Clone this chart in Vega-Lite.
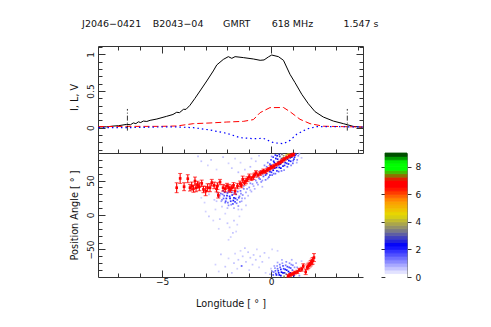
{"$schema":"https://vega.github.io/schema/vega-lite/v6.json","padding":{"left":68,"top":18,"right":60,"bottom":15},"background":"white","config":{"view":{"stroke":null},"font":"DejaVu Sans","axis":{"grid":false,"domainColor":"#333","tickColor":"#333","labelColor":"#111","titleColor":"#111","labelFontSize":9,"titleFontSize":9.7,"titleFontWeight":"normal","labelFont":"DejaVu Sans","titleFont":"DejaVu Sans"}},"bounds":"flush","columns":2,"spacing":{"row":0,"column":22},"concat":[{"width":265,"height":107,"resolve":{"axis":{"x":"independent","y":"independent"}},"layer":[{"data":{"values":[{"lon":-7.92,"val":0.01},{"lon":-7.54,"val":0.012},{"lon":-7.25,"val":0.022},{"lon":-7.0,"val":0.027},{"lon":-6.62,"val":0.045},{"lon":-6.45,"val":0.04},{"lon":-6.32,"val":0.065},{"lon":-6.2,"val":0.055},{"lon":-6.09,"val":0.08},{"lon":-5.98,"val":0.07},{"lon":-5.86,"val":0.09},{"lon":-5.7,"val":0.085},{"lon":-5.55,"val":0.1},{"lon":-5.24,"val":0.118},{"lon":-4.79,"val":0.155},{"lon":-4.5,"val":0.18},{"lon":-4.33,"val":0.21},{"lon":-4.2,"val":0.205},{"lon":-4.02,"val":0.25},{"lon":-3.9,"val":0.25},{"lon":-3.72,"val":0.305},{"lon":-3.49,"val":0.4},{"lon":-3.26,"val":0.5},{"lon":-2.95,"val":0.636},{"lon":-2.65,"val":0.773},{"lon":-2.49,"val":0.855},{"lon":-2.19,"val":0.93},{"lon":-1.96,"val":0.968},{"lon":-1.8,"val":0.945},{"lon":-1.65,"val":0.968},{"lon":-1.27,"val":0.955},{"lon":-0.81,"val":0.936},{"lon":-0.5,"val":0.918},{"lon":-0.32,"val":0.923},{"lon":-0.12,"val":0.964},{"lon":0.03,"val":0.99},{"lon":0.34,"val":0.968},{"lon":0.57,"val":0.918},{"lon":0.87,"val":0.727},{"lon":1.1,"val":0.614},{"lon":1.41,"val":0.455},{"lon":1.71,"val":0.327},{"lon":2.02,"val":0.218},{"lon":2.4,"val":0.145},{"lon":2.86,"val":0.09},{"lon":3.32,"val":0.055},{"lon":3.77,"val":0.018},{"lon":4.2,"val":0.005}]},"mark":{"type":"line","color":"#000","strokeWidth":1,"interpolate":"linear"},"encoding":{"x":{"field":"lon","type":"quantitative","scale":{"domain":[-7.94,4.22],"nice":false,"zero":false},"axis":{"orient":"bottom","values":[-7,-6,-5,-4,-3,-2,-1,0,1,2,3,4],"labels":false,"title":null,"tickSize":{"condition":{"test":"abs(datum.value)%5===0","value":-7},"value":-4}}},"y":{"field":"val","type":"quantitative","scale":{"domain":[-0.345,1.113],"nice":false,"zero":false},"axis":{"orient":"left","values":[-0.3,-0.2,-0.1,0,0.1,0.2,0.3,0.4,0.5,0.6,0.7,0.8,0.9,1,1.1],"labelAngle":-90,"labelAlign":"center","labelBaseline":"bottom","labelPadding":10,"labelExpr":"abs(datum.value-round(datum.value*2)/2)<0.001&&datum.value>=0?format(datum.value,'~g'):''","title":"I, L, V","titleX":-19,"titleY":51,"tickSize":{"condition":{"test":"abs(datum.value*2-round(datum.value*2))<0.001","value":-7},"value":-4}}}}},{"data":{"values":[{"lon":-7.92,"val":0.014},{"lon":-6.62,"val":0.018},{"lon":-5.09,"val":0.018},{"lon":-4.33,"val":0.023},{"lon":-3.56,"val":0.055},{"lon":-2.8,"val":0.064},{"lon":-2.03,"val":0.077},{"lon":-1.27,"val":0.086},{"lon":-0.81,"val":0.11},{"lon":-0.5,"val":0.205},{"lon":-0.05,"val":0.273},{"lon":0.57,"val":0.275},{"lon":0.87,"val":0.218},{"lon":1.33,"val":0.114},{"lon":1.79,"val":0.055},{"lon":2.4,"val":0.02},{"lon":3.32,"val":0.014},{"lon":4.2,"val":0.01}]},"mark":{"type":"line","color":"#f00","strokeWidth":1,"strokeDash":[6,3]},"encoding":{"x":{"field":"lon","type":"quantitative","scale":{"domain":[-7.94,4.22],"nice":false,"zero":false},"axis":{"orient":"top","values":[-7,-6,-5,-4,-3,-2,-1,0,1,2,3,4],"labels":false,"title":null,"tickSize":{"condition":{"test":"abs(datum.value)%5===0","value":-7},"value":-4}}},"y":{"field":"val","type":"quantitative","scale":{"domain":[-0.345,1.113],"nice":false,"zero":false},"axis":{"orient":"right","values":[-0.3,-0.2,-0.1,0,0.1,0.2,0.3,0.4,0.5,0.6,0.7,0.8,0.9,1,1.1],"labels":false,"title":null,"tickSize":{"condition":{"test":"abs(datum.value*2-round(datum.value*2))<0.001","value":-7},"value":-4}}}}},{"data":{"values":[{"lon":-7.92,"val":0.0},{"lon":-6.62,"val":0.0},{"lon":-5.09,"val":0.01},{"lon":-4.33,"val":0.01},{"lon":-3.56,"val":0.0},{"lon":-2.8,"val":-0.032},{"lon":-2.03,"val":-0.077},{"lon":-1.42,"val":-0.136},{"lon":-0.81,"val":-0.15},{"lon":-0.35,"val":-0.145},{"lon":0.11,"val":-0.205},{"lon":0.57,"val":-0.218},{"lon":0.87,"val":-0.173},{"lon":1.18,"val":-0.09},{"lon":1.64,"val":-0.018},{"lon":2.09,"val":0.014},{"lon":2.86,"val":0.014},{"lon":4.2,"val":0.01}]},"mark":{"type":"line","color":"#00f","strokeWidth":1.2,"strokeDash":[1.5,3]},"encoding":{"x":{"field":"lon","type":"quantitative","scale":{"domain":[-7.94,4.22],"nice":false,"zero":false},"axis":null},"y":{"field":"val","type":"quantitative","scale":{"domain":[-0.345,1.113],"nice":false,"zero":false},"axis":null}}},{"data":{"values":[{"lon":-6.59,"lo":-0.04,"hi":0.255},{"lon":3.5,"lo":-0.04,"hi":0.255}]},"mark":{"type":"rule","color":"#000","strokeWidth":0.8,"strokeDash":[5,2,1,2]},"encoding":{"x":{"field":"lon","type":"quantitative","scale":{"domain":[-7.94,4.22],"nice":false,"zero":false},"axis":null},"y":{"field":"lo","type":"quantitative","scale":{"domain":[-0.345,1.113],"nice":false,"zero":false},"axis":null},"y2":{"field":"hi"}}},{"data":{"values":[{"lon":-8.67,"t":"J2046−0421"},{"lon":-5.43,"t":"B2043−04"},{"lon":-2.2,"t":"GMRT"},{"lon":0.03,"t":"618 MHz"},{"lon":3.32,"t":"1.547 s"}]},"mark":{"type":"text","align":"left","baseline":"middle","fontSize":9.5,"color":"#111"},"encoding":{"x":{"field":"lon","type":"quantitative","scale":{"domain":[-7.94,4.22],"nice":false,"zero":false},"axis":null},"y":{"datum":1.413,"type":"quantitative","scale":{"domain":[-0.345,1.113],"nice":false,"zero":false},"axis":null},"text":{"field":"t"}}}]},{"width":22,"height":107,"data":{"values":[{"a":1}]},"mark":{"type":"rule","opacity":0},"encoding":{}},{"width":265,"height":124,"resolve":{"axis":{"x":"independent","y":"independent"}},"layer":[{"data":{"values":[{"x":-3.35,"y":85,"z":0.5},{"x":-3.2,"y":78,"z":0.5},{"x":-2.9,"y":72,"z":0.4},{"x":-2.75,"y":80,"z":0.5},{"x":-2.5,"y":66,"z":0.4},{"x":-2.2,"y":84,"z":0.5},{"x":-1.95,"y":75,"z":0.4},{"x":-1.8,"y":68,"z":0.5},{"x":-1.65,"y":82,"z":0.4},{"x":-1.5,"y":62,"z":0.6},{"x":-1.4,"y":76,"z":0.4},{"x":-0.9,"y":82,"z":0.5},{"x":-0.95,"y":70,"z":0.6},{"x":-0.55,"y":86,"z":0.5},{"x":-0.7,"y":78,"z":0.5},{"x":-1.2,"y":66,"z":0.5},{"x":-3.2,"y":25,"z":0.4},{"x":-3.05,"y":18,"z":0.4},{"x":-2.85,"y":30,"z":0.5},{"x":-2.6,"y":22,"z":0.5},{"x":-3.0,"y":5,"z":0.4},{"x":-2.85,"y":-2,"z":0.5},{"x":-2.55,"y":8,"z":0.4},{"x":-2.35,"y":-6,"z":0.5},{"x":-2.1,"y":2,"z":0.4},{"x":-2.0,"y":-12,"z":0.5},{"x":-1.9,"y":-18,"z":0.4},{"x":-1.7,"y":-8,"z":0.5},{"x":-1.55,"y":-14,"z":0.4},{"x":-1.45,"y":-2,"z":0.4},{"x":-1.35,"y":8,"z":0.5},{"x":-1.15,"y":14,"z":0.5},{"x":-2.25,"y":12,"z":0.5},{"x":-2.65,"y":-8,"z":0.4},{"x":-1.75,"y":-26,"z":0.5},{"x":-1.85,"y":-32,"z":0.4},{"x":-1.6,"y":-24,"z":0.4},{"x":-1.95,"y":-36,"z":0.4},{"x":-2.4,"y":-20,"z":0.4},{"x":-2.4,"y":26,"z":1.0},{"x":-2.3,"y":31,"z":1.3},{"x":-2.25,"y":22,"z":1.0},{"x":-2.2,"y":35,"z":1.6},{"x":-2.15,"y":28,"z":1.4},{"x":-2.1,"y":18,"z":1.2},{"x":-2.05,"y":24,"z":1.8},{"x":-2.0,"y":32,"z":1.6},{"x":-1.95,"y":14,"z":1.0},{"x":-1.9,"y":27,"z":1.9},{"x":-1.85,"y":20,"z":1.7},{"x":-1.8,"y":33,"z":1.4},{"x":-1.75,"y":16,"z":1.5},{"x":-1.7,"y":25,"z":2.0},{"x":-1.65,"y":19,"z":1.6},{"x":-1.6,"y":30,"z":1.5},{"x":-1.55,"y":22,"z":1.2},{"x":-1.5,"y":13,"z":0.9},{"x":-1.45,"y":27,"z":1.3},{"x":-1.4,"y":35,"z":1.2},{"x":-1.35,"y":20,"z":0.8},{"x":-1.3,"y":29,"z":1.0},{"x":-1.25,"y":38,"z":1.1},{"x":-1.2,"y":24,"z":0.7},{"x":-1.15,"y":33,"z":0.8},{"x":-1.05,"y":28,"z":0.6},{"x":-1.0,"y":40,"z":1.0},{"x":-0.9,"y":34,"z":0.7},{"x":-0.85,"y":45,"z":0.9},{"x":-0.75,"y":38,"z":0.7},{"x":-0.7,"y":50,"z":1.0},{"x":-0.6,"y":44,"z":0.8},{"x":-0.55,"y":53,"z":1.2},{"x":-0.45,"y":48,"z":1.0},{"x":-0.4,"y":41,"z":0.6},{"x":-0.35,"y":56,"z":1.4},{"x":-0.3,"y":72,"z":1.0},{"x":-0.25,"y":51,"z":1.2},{"x":-0.2,"y":60,"z":1.9},{"x":-0.15,"y":76,"z":1.2},{"x":-0.1,"y":55,"z":1.4},{"x":-0.05,"y":63,"z":2.0},{"x":0.0,"y":80,"z":1.5},{"x":0.0,"y":72,"z":2.1},{"x":0.05,"y":58,"z":1.3},{"x":0.1,"y":84,"z":1.7},{"x":0.1,"y":65,"z":2.2},{"x":0.15,"y":76,"z":2.3},{"x":0.2,"y":60,"z":1.3},{"x":0.2,"y":87,"z":1.8},{"x":0.25,"y":69,"z":2.2},{"x":0.3,"y":81,"z":2.4},{"x":0.35,"y":63,"z":1.4},{"x":0.35,"y":73,"z":2.2},{"x":0.4,"y":85,"z":2.8},{"x":0.45,"y":68,"z":2.1},{"x":0.45,"y":78,"z":2.4},{"x":0.5,"y":88,"z":3.2},{"x":0.55,"y":71,"z":2.0},{"x":0.55,"y":83,"z":3.8},{"x":0.6,"y":65,"z":1.0},{"x":0.65,"y":76,"z":2.0},{"x":0.7,"y":87,"z":4.2},{"x":0.75,"y":70,"z":1.4},{"x":0.75,"y":81,"z":2.6},{"x":0.8,"y":74,"z":1.9},{"x":0.85,"y":88,"z":4.6},{"x":0.9,"y":78,"z":2.0},{"x":0.95,"y":84,"z":2.4},{"x":1.0,"y":75,"z":1.4},{"x":1.05,"y":81,"z":1.8},{"x":1.1,"y":87,"z":2.2},{"x":1.2,"y":80,"z":1.0},{"x":1.25,"y":86,"z":1.0},{"x":1.3,"y":89,"z":0.9},{"x":1.4,"y":83,"z":0.5},{"x":-2.3,"y":-57,"z":0.5},{"x":-2.1,"y":-75,"z":0.5},{"x":-1.95,"y":-63,"z":0.4},{"x":-2.4,"y":-82,"z":0.4},{"x":-2.55,"y":-72,"z":0.4},{"x":-1.8,"y":-84,"z":0.5},{"x":-1.7,"y":-70,"z":0.5},{"x":-1.65,"y":-56,"z":0.4},{"x":-1.55,"y":-78,"z":0.4},{"x":-1.5,"y":-65,"z":0.5},{"x":-1.4,"y":-52,"z":0.4},{"x":-1.35,"y":-74,"z":1.4},{"x":-1.3,"y":-60,"z":0.5},{"x":-1.2,"y":-48,"z":0.5},{"x":-1.15,"y":-68,"z":0.5},{"x":-1.05,"y":-54,"z":0.5},{"x":-1.0,"y":-80,"z":0.4},{"x":-0.95,"y":-62,"z":0.5},{"x":-0.85,"y":-72,"z":0.5},{"x":-0.8,"y":-58,"z":0.5},{"x":-0.7,"y":-65,"z":0.5},{"x":-0.65,"y":-50,"z":0.4},{"x":-0.55,"y":-76,"z":0.4},{"x":-0.5,"y":-60,"z":0.5},{"x":-0.4,"y":-68,"z":0.5},{"x":-0.3,"y":-55,"z":0.5},{"x":-0.25,"y":-84,"z":0.4},{"x":-0.1,"y":-62,"z":0.4},{"x":0.05,"y":-50,"z":0.4},{"x":0.3,"y":-52,"z":0.4},{"x":0.05,"y":-82,"z":1.0},{"x":0.1,"y":-87,"z":1.5},{"x":0.15,"y":-74,"z":0.8},{"x":0.2,"y":-81,"z":1.4},{"x":0.25,"y":-87,"z":2.0},{"x":0.3,"y":-69,"z":0.8},{"x":0.3,"y":-78,"z":1.3},{"x":0.35,"y":-84,"z":2.0},{"x":0.4,"y":-72,"z":1.2},{"x":0.45,"y":-88,"z":2.3},{"x":0.45,"y":-79,"z":1.9},{"x":0.5,"y":-65,"z":0.7},{"x":0.55,"y":-84,"z":2.2},{"x":0.55,"y":-74,"z":1.5},{"x":0.6,"y":-89,"z":3.6},{"x":0.65,"y":-79,"z":2.0},{"x":0.7,"y":-68,"z":1.0},{"x":0.7,"y":-86,"z":3.0},{"x":0.75,"y":-75,"z":1.6},{"x":0.8,"y":-82,"z":2.2},{"x":0.85,"y":-70,"z":1.0},{"x":0.9,"y":-77,"z":1.6},{"x":0.95,"y":-65,"z":0.7},{"x":1.0,"y":-73,"z":1.1},{"x":1.05,"y":-88,"z":2.1},{"x":1.15,"y":-70,"z":0.7},{"x":1.2,"y":-76,"z":0.9},{"x":1.3,"y":-88,"z":1.0},{"x":1.4,"y":-67,"z":0.5},{"x":-2.35,"y":28,"z":0.9},{"x":-2.28,"y":20,"z":0.8},{"x":-2.22,"y":30,"z":1.2},{"x":-2.18,"y":24,"z":1.4},{"x":-2.12,"y":33,"z":1.7},{"x":-2.08,"y":20,"z":1.5},{"x":-2.02,"y":28,"z":1.9},{"x":-1.98,"y":18,"z":1.2},{"x":-1.93,"y":34,"z":1.6},{"x":-1.88,"y":24,"z":2.0},{"x":-1.83,"y":15,"z":1.0},{"x":-1.78,"y":29,"z":1.8},{"x":-1.73,"y":21,"z":2.1},{"x":-1.68,"y":32,"z":1.5},{"x":-1.63,"y":24,"z":1.8},{"x":-1.58,"y":17,"z":1.2},{"x":-1.53,"y":34,"z":1.3},{"x":-1.48,"y":25,"z":1.5},{"x":-1.43,"y":19,"z":1.0},{"x":-1.38,"y":31,"z":1.0},{"x":-1.33,"y":24,"z":0.8},{"x":-2.45,"y":32,"z":0.8},{"x":-2.5,"y":20,"z":0.5},{"x":-2.0,"y":10,"z":0.6},{"x":-1.7,"y":10,"z":0.7},{"x":-1.5,"y":8,"z":0.5},{"x":-1.25,"y":42,"z":0.9},{"x":-1.1,"y":38,"z":0.9},{"x":-0.95,"y":46,"z":1.0},{"x":-0.95,"y":36,"z":0.6},{"x":-0.8,"y":42,"z":0.7},{"x":-0.8,"y":52,"z":1.0},{"x":-0.65,"y":47,"z":1.0},{"x":-0.65,"y":57,"z":0.9},{"x":-0.5,"y":52,"z":1.2},{"x":-0.5,"y":64,"z":0.8},{"x":-0.4,"y":60,"z":1.5},{"x":-0.4,"y":50,"z":0.9},{"x":-0.3,"y":63,"z":1.3},{"x":-0.25,"y":58,"z":1.7},{"x":-0.2,"y":70,"z":1.2},{"x":-0.15,"y":53,"z":0.9},{"x":-0.12,"y":66,"z":1.9},{"x":-0.05,"y":58,"z":1.6},{"x":-0.05,"y":74,"z":1.5},{"x":0.02,"y":62,"z":1.8},{"x":0.03,"y":85,"z":1.0},{"x":0.07,"y":70,"z":2.1},{"x":0.12,"y":78,"z":2.0},{"x":0.12,"y":60,"z":1.2},{"x":0.17,"y":68,"z":2.3},{"x":0.22,"y":74,"z":2.2},{"x":0.22,"y":82,"z":2.0},{"x":0.27,"y":64,"z":1.7},{"x":0.28,"y":86,"z":2.4},{"x":0.33,"y":77,"z":2.6},{"x":0.38,"y":69,"z":2.2},{"x":0.38,"y":88,"z":2.6},{"x":0.43,"y":74,"z":2.1},{"x":0.48,"y":82,"z":3.0},{"x":0.48,"y":64,"z":1.2},{"x":0.52,"y":77,"z":2.2},{"x":0.58,"y":86,"z":3.6},{"x":0.62,"y":72,"z":1.8},{"x":0.62,"y":80,"z":2.5},{"x":0.68,"y":84,"z":3.3},{"x":0.72,"y":75,"z":1.8},{"x":0.78,"y":88,"z":4.2},{"x":0.82,"y":79,"z":2.2},{"x":0.88,"y":83,"z":2.6},{"x":0.92,"y":72,"z":1.1},{"x":0.98,"y":88,"z":3.0},{"x":1.02,"y":79,"z":1.5},{"x":1.08,"y":84,"z":1.8},{"x":1.15,"y":88,"z":1.5},{"x":1.18,"y":76,"z":0.7},{"x":0.12,"y":-83,"z":1.2},{"x":0.18,"y":-77,"z":0.9},{"x":0.22,"y":-85,"z":1.6},{"x":0.28,"y":-74,"z":0.9},{"x":0.33,"y":-81,"z":1.7},{"x":0.38,"y":-87,"z":2.2},{"x":0.42,"y":-76,"z":1.4},{"x":0.48,"y":-83,"z":2.2},{"x":0.52,"y":-70,"z":0.9},{"x":0.58,"y":-78,"z":1.7},{"x":0.62,"y":-84,"z":2.6},{"x":0.67,"y":-73,"z":1.2},{"x":0.72,"y":-80,"z":2.0},{"x":0.78,"y":-88,"z":3.2},{"x":0.83,"y":-76,"z":1.5},{"x":0.88,"y":-84,"z":2.2},{"x":0.93,"y":-72,"z":1.0},{"x":0.98,"y":-80,"z":1.4},{"x":1.08,"y":-76,"z":0.9},{"x":1.12,"y":-84,"z":1.4},{"x":-0.05,"y":-86,"z":0.6},{"x":0.0,"y":-78,"z":0.5}]},"mark":{"type":"square","size":3,"opacity":1},"encoding":{"x":{"field":"x","type":"quantitative","scale":{"domain":[-7.94,4.22],"nice":false,"zero":false},"axis":{"orient":"bottom","values":[-7,-6,-5,-4,-3,-2,-1,0,1,2,3,4],"labelPadding":7,"labelExpr":"datum.value%5===0?replace(format(datum.value,'d'),'-','−'):''","title":"Longitude [ ° ]","titlePadding":12,"tickSize":{"condition":{"test":"abs(datum.value)%5===0","value":-7},"value":-4}}},"y":{"field":"y","type":"quantitative","scale":{"domain":[-90,90],"nice":false,"zero":false},"axis":{"orient":"left","values":[-80,-70,-60,-50,-40,-30,-20,-10,0,10,20,30,40,50,60,70,80],"labelAngle":-90,"labelAlign":"center","labelBaseline":"bottom","labelPadding":10,"labelExpr":"datum.value%50===0?replace(format(datum.value,'d'),'-','−'):''","title":"Position Angle [ ° ]","titleX":-19,"titleY":62,"tickSize":{"condition":{"test":"datum.value%50===0","value":-7},"value":-4}}},"color":{"field":"z","type":"quantitative","legend":null,"scale":{"type":"linear","interpolate":"rgb","domain":[0,2.2,3.3,4.4,5.4,6.4,6.9,7.7,8.2,9],"range":["#ffffff","#0000ff","#808080","#e6dc00","#ff9600","#ff0000","#ff0000","#00ff00","#00ff00","#000000"]}}}},{"data":{"values":[{"lon":-4.33,"pa":39.6,"lo":32.4,"hi":46.8},{"lon":-4.17,"pa":53.1,"lo":45.9,"hi":60.3},{"lon":-3.99,"pa":41.1,"lo":35.3,"hi":46.9},{"lon":-3.82,"pa":52.7,"lo":46.9,"hi":58.5},{"lon":-3.72,"pa":39.6,"lo":34.8,"hi":44.4},{"lon":-3.64,"pa":42,"lo":36.2,"hi":47.8},{"lon":-3.56,"pa":38,"lo":33,"hi":43},{"lon":-3.49,"pa":49.3,"lo":43.5,"hi":55.1},{"lon":-3.44,"pa":39.6,"lo":33.8,"hi":45.4},{"lon":-3.37,"pa":44,"lo":39,"hi":49},{"lon":-3.29,"pa":41.1,"lo":35.3,"hi":46.9},{"lon":-3.18,"pa":45.9,"lo":41.1,"hi":50.7},{"lon":-3.1,"pa":37.2,"lo":32.4,"hi":42},{"lon":-3,"pa":34.8,"lo":28,"hi":41.6},{"lon":-2.91,"pa":39.6,"lo":33.8,"hi":45.4},{"lon":-2.8,"pa":39.6,"lo":33.8,"hi":45.4},{"lon":-2.72,"pa":46.9,"lo":42.1,"hi":51.7},{"lon":-2.61,"pa":43,"lo":38.2,"hi":47.8},{"lon":-2.5,"pa":38,"lo":33.5,"hi":42.5},{"lon":-2.46,"pa":42,"lo":37.2,"hi":46.8},{"lon":-2.42,"pa":28.5,"lo":24.6,"hi":32.4},{"lon":-2.34,"pa":47.8,"lo":43.9,"hi":51.7},{"lon":-2.2,"pa":39.6,"lo":34.8,"hi":44.4},{"lon":-2.1,"pa":38.2,"lo":33.4,"hi":43},{"lon":-2.02,"pa":42,"lo":38,"hi":46},{"lon":-1.94,"pa":39.6,"lo":34.8,"hi":44.4},{"lon":-1.87,"pa":37,"lo":33,"hi":41},{"lon":-1.8,"pa":39.6,"lo":35.7,"hi":43.5},{"lon":-1.72,"pa":43,"lo":39,"hi":47},{"lon":-1.65,"pa":34.8,"lo":30,"hi":39.6},{"lon":-1.54,"pa":42,"lo":38.1,"hi":45.9},{"lon":-1.42,"pa":45.4,"lo":41.5,"hi":49.3},{"lon":-1.36,"pa":43,"lo":39.5,"hi":46.5},{"lon":-1.3,"pa":51.7,"lo":46.9,"hi":56.5},{"lon":-1.22,"pa":47,"lo":43.5,"hi":50.5},{"lon":-1.15,"pa":49.3,"lo":45.4,"hi":53.2},{"lon":-1.08,"pa":52,"lo":48.5,"hi":55.5},{"lon":-1,"pa":55.6,"lo":51.7,"hi":59.5},{"lon":-0.9,"pa":53,"lo":50,"hi":56},{"lon":-0.81,"pa":55.6,"lo":51.7,"hi":59.5},{"lon":-0.75,"pa":58,"lo":55,"hi":61},{"lon":-0.69,"pa":61.4,"lo":58.5,"hi":64.3},{"lon":-0.6,"pa":58,"lo":55,"hi":61},{"lon":-0.5,"pa":60.4,"lo":57.5,"hi":63.3},{"lon":-0.42,"pa":62,"lo":59.5,"hi":64.5},{"lon":-0.35,"pa":63.8,"lo":60.9,"hi":66.7},{"lon":-0.26,"pa":63,"lo":60.5,"hi":65.5},{"lon":-0.17,"pa":65.2,"lo":62.8,"hi":67.6},{"lon":-0.1,"pa":67,"lo":65,"hi":69},{"lon":-0.02,"pa":68.6,"lo":65.7,"hi":71.5},{"lon":0.06,"pa":69.5,"lo":67.5,"hi":71.5},{"lon":0.14,"pa":71,"lo":68.6,"hi":73.4},{"lon":0.24,"pa":73,"lo":71,"hi":75},{"lon":0.34,"pa":74.9,"lo":73,"hi":76.8},{"lon":0.42,"pa":76.5,"lo":74.6,"hi":78.4},{"lon":0.49,"pa":78.3,"lo":76.4,"hi":80.2},{"lon":0.57,"pa":80,"lo":78.1,"hi":81.9},{"lon":0.64,"pa":81.6,"lo":79.7,"hi":83.5},{"lon":0.74,"pa":83.5,"lo":81.6,"hi":85.4},{"lon":0.84,"pa":85.5,"lo":83.6,"hi":87.4},{"lon":0.94,"pa":86.8,"lo":84.9,"hi":88.7},{"lon":1.03,"pa":87.9,"lo":86,"hi":89.8},{"lon":0.79,"pa":-88.5,"lo":-90,"hi":-86.6},{"lon":0.87,"pa":-87,"lo":-89,"hi":-85},{"lon":0.95,"pa":-86,"lo":-88,"hi":-84},{"lon":1.03,"pa":-85,"lo":-87,"hi":-83},{"lon":1.1,"pa":-83.5,"lo":-85.5,"hi":-81.5},{"lon":1.21,"pa":-82.6,"lo":-85,"hi":-80.2},{"lon":1.3,"pa":-79.7,"lo":-82,"hi":-77.4},{"lon":1.41,"pa":-78.7,"lo":-81.5,"hi":-75.9},{"lon":1.48,"pa":-73.9,"lo":-77,"hi":-70.8},{"lon":1.59,"pa":-82.6,"lo":-86.5,"hi":-78.7},{"lon":1.66,"pa":-76,"lo":-79.5,"hi":-72.5},{"lon":1.71,"pa":-73.9,"lo":-77.8,"hi":-70},{"lon":1.77,"pa":-72,"lo":-75.5,"hi":-68.5},{"lon":1.82,"pa":-70,"lo":-73.9,"hi":-66.1},{"lon":1.87,"pa":-68,"lo":-72,"hi":-64},{"lon":1.91,"pa":-66.6,"lo":-71.4,"hi":-61.8},{"lon":1.97,"pa":-61.8,"lo":-67.6,"hi":-56}]},"layer":[{"mark":{"type":"rule","color":"#f00","strokeWidth":1.1},"encoding":{"x":{"field":"lon","type":"quantitative","scale":{"domain":[-7.94,4.22],"nice":false,"zero":false},"axis":{"orient":"top","values":[-7,-6,-5,-4,-3,-2,-1,0,1,2,3,4],"labels":false,"title":null,"tickSize":{"condition":{"test":"abs(datum.value)%5===0","value":-7},"value":-4}}},"y":{"field":"lo","type":"quantitative","scale":{"domain":[-90,90],"nice":false,"zero":false},"axis":{"orient":"right","values":[-80,-70,-60,-50,-40,-30,-20,-10,0,10,20,30,40,50,60,70,80],"labels":false,"title":null,"tickSize":{"condition":{"test":"datum.value%50===0","value":-7},"value":-4}}},"y2":{"field":"hi"}}},{"mark":{"type":"tick","color":"#f00","size":4,"thickness":1,"orient":"horizontal"},"encoding":{"x":{"field":"lon","type":"quantitative","scale":{"domain":[-7.94,4.22],"nice":false,"zero":false},"axis":null},"y":{"field":"lo","type":"quantitative","scale":{"domain":[-90,90],"nice":false,"zero":false},"axis":null}}},{"mark":{"type":"tick","color":"#f00","size":4,"thickness":1,"orient":"horizontal"},"encoding":{"x":{"field":"lon","type":"quantitative","scale":{"domain":[-7.94,4.22],"nice":false,"zero":false},"axis":null},"y":{"field":"hi","type":"quantitative","scale":{"domain":[-90,90],"nice":false,"zero":false},"axis":null}}},{"mark":{"type":"square","color":"#f00","size":7,"opacity":1},"encoding":{"x":{"field":"lon","type":"quantitative","scale":{"domain":[-7.94,4.22],"nice":false,"zero":false},"axis":null},"y":{"field":"pa","type":"quantitative","scale":{"domain":[-90,90],"nice":false,"zero":false},"axis":null}}}]}]},{"width":22,"height":124,"data":{"values":[{"v":0,"v2":0.25,"a":0,"b":1},{"v":0.25,"v2":0.5,"a":0,"b":1},{"v":0.5,"v2":0.75,"a":0,"b":1},{"v":0.75,"v2":1,"a":0,"b":1},{"v":1,"v2":1.25,"a":0,"b":1},{"v":1.25,"v2":1.5,"a":0,"b":1},{"v":1.5,"v2":1.75,"a":0,"b":1},{"v":1.75,"v2":2,"a":0,"b":1},{"v":2,"v2":2.25,"a":0,"b":1},{"v":2.25,"v2":2.5,"a":0,"b":1},{"v":2.5,"v2":2.75,"a":0,"b":1},{"v":2.75,"v2":3,"a":0,"b":1},{"v":3,"v2":3.25,"a":0,"b":1},{"v":3.25,"v2":3.5,"a":0,"b":1},{"v":3.5,"v2":3.75,"a":0,"b":1},{"v":3.75,"v2":4,"a":0,"b":1},{"v":4,"v2":4.25,"a":0,"b":1},{"v":4.25,"v2":4.5,"a":0,"b":1},{"v":4.5,"v2":4.75,"a":0,"b":1},{"v":4.75,"v2":5,"a":0,"b":1},{"v":5,"v2":5.25,"a":0,"b":1},{"v":5.25,"v2":5.5,"a":0,"b":1},{"v":5.5,"v2":5.75,"a":0,"b":1},{"v":5.75,"v2":6,"a":0,"b":1},{"v":6,"v2":6.25,"a":0,"b":1},{"v":6.25,"v2":6.5,"a":0,"b":1},{"v":6.5,"v2":6.75,"a":0,"b":1},{"v":6.75,"v2":7,"a":0,"b":1},{"v":7,"v2":7.25,"a":0,"b":1},{"v":7.25,"v2":7.5,"a":0,"b":1},{"v":7.5,"v2":7.75,"a":0,"b":1},{"v":7.75,"v2":8,"a":0,"b":1},{"v":8,"v2":8.25,"a":0,"b":1},{"v":8.25,"v2":8.5,"a":0,"b":1},{"v":8.5,"v2":8.75,"a":0,"b":1},{"v":8.75,"v2":9,"a":0,"b":1}]},"resolve":{"axis":{"y":"independent"}},"layer":[{"mark":{"type":"rect","strokeWidth":0.8},"encoding":{"x":{"field":"a","type":"quantitative","scale":{"domain":[0,1],"nice":false,"zero":false},"axis":null},"x2":{"field":"b"},"y":{"field":"v","type":"quantitative","scale":{"domain":[0,9],"nice":false,"zero":false},"axis":{"orient":"right","values":[0,2,4,6,8],"title":null,"tickSize":4,"labelPadding":4,"domainColor":"#777"}},"y2":{"field":"v2"},"color":{"field":"v","type":"quantitative","legend":null,"scale":{"type":"linear","interpolate":"rgb","domain":[0,2.2,3.3,4.4,5.4,6.4,6.9,7.7,8.2,9],"range":["#ffffff","#0000ff","#808080","#e6dc00","#ff9600","#ff0000","#ff0000","#00ff00","#00ff00","#000000"]}},"stroke":{"field":"v","type":"quantitative","legend":null,"scale":{"type":"linear","interpolate":"rgb","domain":[0,2.2,3.3,4.4,5.4,6.4,6.9,7.7,8.2,9],"range":["#ffffff","#0000ff","#808080","#e6dc00","#ff9600","#ff0000","#ff0000","#00ff00","#00ff00","#000000"]}}}},{"mark":{"type":"rule","opacity":0},"encoding":{"x":{"field":"a","type":"quantitative","scale":{"domain":[0,1],"nice":false,"zero":false},"axis":null},"y":{"field":"v","type":"quantitative","scale":{"domain":[0,9],"nice":false,"zero":false},"axis":{"orient":"left","values":[0,2,4,6,8],"labels":false,"title":null,"tickSize":4,"domainColor":"#777"}}}}]}]}
